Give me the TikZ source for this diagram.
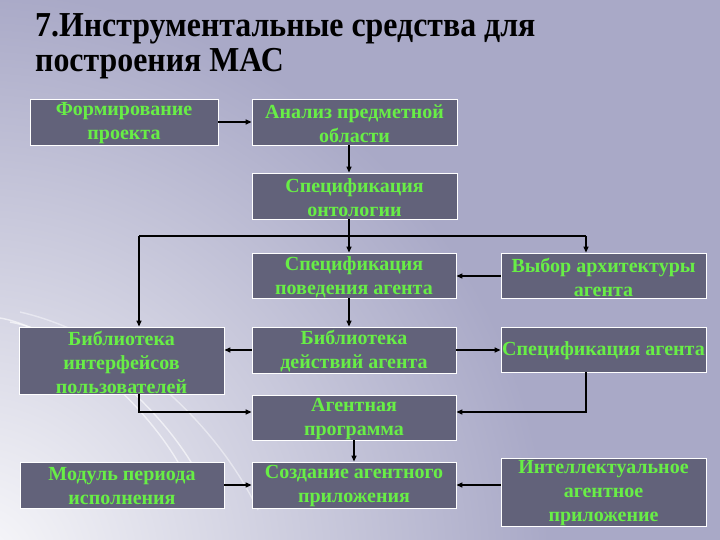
\documentclass[tikz,border=0pt]{standalone}
\usepackage{fontspec}
\setmainfont{Liberation Serif}
\newfontfamily\boxfont{Liberation Serif}
\newfontfamily\titlefont[FakeStretch=0.91]{Liberation Serif}
\usetikzlibrary{arrows.meta,calc}
\definecolor{bg}{RGB}{169,169,199}
\definecolor{boxfill}{RGB}{98,98,122}
\definecolor{txtgreen}{RGB}{104,238,70}
\tikzset{
  box/.style={draw=white, line width=0.8pt, fill=boxfill,
    inner sep=0pt, minimum width=205pt, minimum height=46pt},
  txt/.style={text=txtgreen, font=\boxfont\bfseries\fontsize{20}{24}\selectfont,
    align=center, inner sep=0pt, yshift=-1.5pt},
  conn/.style={line width=1.2pt, -{Triangle[length=6pt,width=5pt]}},
  plain/.style={line width=1.2pt},
  swoosh/.style={white, line width=1.4pt, opacity=0.6},
  ttl/.style={anchor=base west, font=\titlefont\bfseries\fontsize{35}{36}\selectfont, text=black, inner sep=0pt}
}
\begin{document}
\begin{tikzpicture}[x=1pt,y=-1pt]
\useasboundingbox (0,0) rectangle (720,540);
\fill[bg] (0,0) rectangle (720,540);
\begin{scope}
\clip (0,0) rectangle (720,540);
\shade[inner color=white!94!bg, outer color=bg] (-30,570) circle (580);
\draw[swoosh] (0,318) .. controls (60,328) and (150,405) .. (185,475);
\draw[swoosh] (10,322) .. controls (80,335) and (165,410) .. (200,478);
\draw[swoosh, opacity=0.45] (20,312) .. controls (120,335) and (215,420) .. (258,510);
\end{scope}

\node[ttl] (t1) at (35,37) {7.Инструментальные средства для};
\node[ttl] (t2) at (35,72) {построения МАС};

\node[box, minimum width=188pt] (fp) at (124,122) {};
\node[box] (an) at (354.5,122) {};
\node[box] (so) at (354.5,196) {};
\node[box, minimum width=204pt, minimum height=45pt] (sp) at (354,275.5) {};
\node[box, minimum height=45pt] (va) at (603.5,275.5) {};
\node[box, minimum height=67pt] (bi) at (121.5,360.5) {};
\node[box, minimum width=204pt] (bd) at (354,350) {};
\node[box, minimum height=45pt] (sa) at (603.5,349.5) {};
\node[box, minimum width=204pt, minimum height=45pt] (ap) at (354,417.5) {};
\node[box, minimum width=204pt] (mp) at (122,485) {};
\node[box, minimum width=204pt] (sz) at (354,485) {};
\node[box, minimum height=68pt] (ia) at (603.5,492) {};

\node[txt] (fpt) at (fp) {Формирование\\проекта};
\node[txt] (ant) at (an) {Анализ предметной\\области};
\node[txt] (sot) at (so) {Спецификация\\онтологии};
\node[txt] (spt) at (sp) {Спецификация\\поведения агента};
\node[txt] (vat) at (va) {Выбор архитектуры\\агента};
\node[txt] (bit) at (bi) {Библиотека\\интерфейсов\\пользователей};
\node[txt] (bdt) at (bd) {Библиотека\\действий агента};
\node[txt] (sat) at (sa) {Спецификация агента};
\node[txt] (apt) at (ap) {Агентная\\программа};
\node[txt] (mpt) at (mp) {Модуль периода\\исполнения};
\node[txt] (szt) at (sz) {Создание агентного\\приложения};
\node[txt] (iat) at (ia) {Интеллектуальное\\агентное\\приложение};

\coordinate (jm) at (349,236);
\coordinate (jl) at (139,236);
\coordinate (jr) at (586,236);
\coordinate (bl) at (139,412);
\coordinate (br) at (586,412);

\draw[conn] (fp.east) -- (an.west);
\draw[conn] ([xshift=-5.5pt]an.south) -- ([xshift=-5.5pt]so.north);
\draw[plain] ([xshift=-5.5pt]so.south) -- (jm);
\draw[plain] (jl) -- (jr);
\draw[conn] (jm) -- ([xshift=-5pt]sp.north);
\draw[conn] (jl) -- (jl |- bi.north);
\draw[conn] (jr) -- (jr |- va.north);
\draw[conn] (va.west |- 0,276) -- (sp.east |- 0,276);
\draw[conn] ([xshift=-5pt]sp.south) -- ([xshift=-5pt]bd.north);
\draw[conn] (bd.west) -- (bi.east |- bd.west);
\draw[conn] (bd.east) -- (sa.west |- bd.east);
\draw[conn] (bl |- bi.south) -- (bl) -- (ap.west |- bl);
\draw[conn] (br |- sa.south) -- (br) -- (ap.east |- br);
\draw[conn] (ap.south) -- (sz.north);
\draw[conn] (mp.east) -- (sz.west);
\draw[conn] (ia.west |- sz.east) -- (sz.east);
\end{tikzpicture}
\end{document}
